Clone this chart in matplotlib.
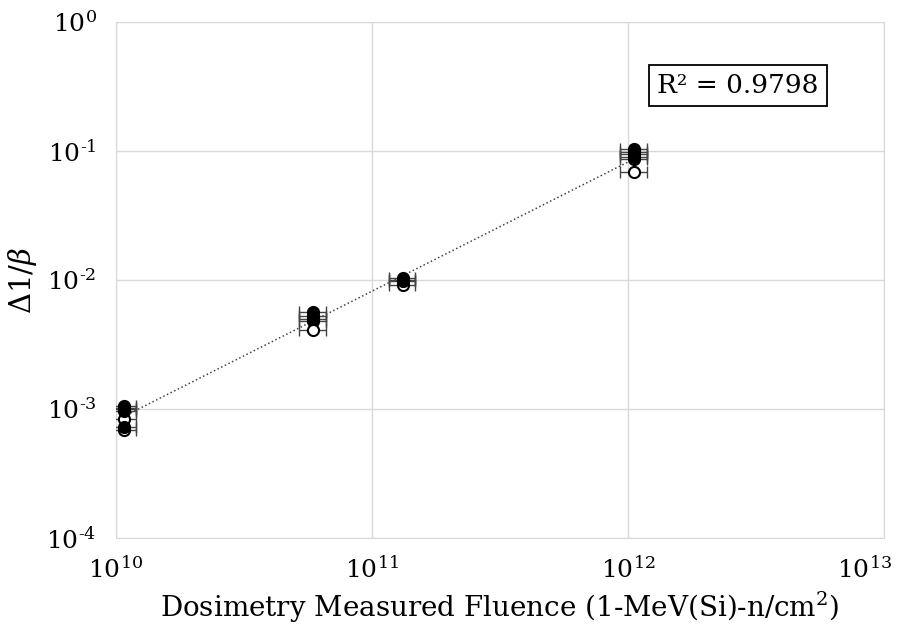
import numpy as np
import matplotlib.pyplot as plt
import matplotlib.transforms as mtransforms
from matplotlib.ticker import FixedLocator, NullLocator, NullFormatter, FuncFormatter

# Dosimetry fluence (1-MeV(Si) n/cm^2) for each irradiation step
fluence_filled = [1.07e10, 1.07e10, 1.07e10, 1.07e10,
                  5.9e10, 5.9e10, 5.9e10,
                  1.32e11, 1.32e11,
                  1.06e12, 1.06e12, 1.06e12, 1.06e12]
delta_filled = [1.05e-3, 1.00e-3, 0.97e-3, 0.72e-3,
                5.6e-3, 5.3e-3, 5.0e-3,
                1.03e-2, 0.98e-2,
                0.104, 0.099, 0.094, 0.090]

fluence_open = [1.07e10, 1.07e10, 1.07e10,
                5.9e10, 5.9e10,
                1.32e11, 1.32e11,
                1.06e12, 1.06e12]
delta_open = [1.02e-3, 0.84e-3, 0.69e-3,
              4.8e-3, 4.1e-3,
              1.00e-2, 0.92e-2,
              0.086, 0.069]

x_ticks = [1e10, 1e11, 1e12, 1e13]
y_ticks = [1e-4, 1e-3, 1e-2, 1e-1, 1e0]

xerr_frac = 0.12
r2_label = "R² = 0.9798"

plt.rcParams["mathtext.fontset"] = "dejavuserif"
plt.rcParams["font.family"] = ["DejaVu Serif"]

fig = plt.figure(figsize=(8.97, 6.25), dpi=100)
ax = fig.add_axes([116 / 897, 1 - 538 / 625, (884 - 116) / 897, (538 - 22) / 625])


def draw(xs, ys, face, z):
    xs = np.array(xs)
    ys = np.array(ys)
    ax.errorbar(xs, ys, xerr=xs * xerr_frac, fmt="none", ecolor="#444444",
                elinewidth=1.0, capsize=4, capthick=1.0, zorder=3)
    ax.plot(xs, ys, "o", ms=8, mfc=face, mec="black", mew=1.5, zorder=z)


draw(fluence_open, delta_open, "white", 4)
draw(fluence_filled, delta_filled, "black", 5)

# Power-law trendline fitted in log-log space
all_x = np.array(fluence_filled + fluence_open)
all_y = np.array(delta_filled + delta_open)
slope, intercept = np.polyfit(np.log10(all_x), np.log10(all_y), 1)
xl = np.array([all_x.min(), all_x.max()])
ax.plot(xl, 10 ** (intercept + slope * np.log10(xl)), ":", color="#444444",
        lw=1.1, zorder=2)

ax.set_xscale("log")
ax.set_yscale("log")
ax.set_xlim(x_ticks[0], x_ticks[-1])
ax.set_ylim(y_ticks[0], y_ticks[-1])


def pow_label(v):
    e = int(round(np.log10(v)))
    if e < 0:
        return r"$10^{\text{-}%d}$" % (-e)
    return r"$10^{%d}$" % e


ax.xaxis.set_major_locator(FixedLocator(x_ticks))
ax.yaxis.set_major_locator(FixedLocator(y_ticks))
ax.xaxis.set_minor_locator(NullLocator())
ax.yaxis.set_minor_locator(NullLocator())
ax.xaxis.set_major_formatter(NullFormatter())
ax.yaxis.set_major_formatter(FuncFormatter(lambda v, p: pow_label(v)))
ax.grid(True, which="major", color="#d9d9d9", lw=1.0)
ax.set_axisbelow(True)
for s in ax.spines.values():
    s.set_color("#d9d9d9")
ax.tick_params(axis="both", length=0)
ax.tick_params(axis="y", pad=14, labelsize=18)

# x tick labels; the last one is pulled in so it stays inside the figure
xt = ax.get_xaxis_transform()
xt_last = mtransforms.offset_copy(xt, fig=fig, x=8, y=0, units="dots")
for i, v in enumerate(x_ticks):
    last = i == len(x_ticks) - 1
    ax.text(v, -0.035, pow_label(v), transform=xt_last if last else xt,
            fontsize=18, ha="right" if last else "center", va="top")

ax.set_xlabel("Dosimetry Measured Fluence (1-MeV(Si)-n/cm$^{2}$)", fontsize=20)
ax.xaxis.set_label_coords(0.5, -0.1)
ax.set_ylabel(r"$\Delta 1/\beta$", fontsize=21)
ax.yaxis.set_label_coords(-0.10, 0.5)

ax.text(0.81, 0.877, r2_label, transform=ax.transAxes,
        fontsize=19, ha="center", va="center",
        bbox=dict(boxstyle="square,pad=0.3", fc="white", ec="black", lw=1.3))

fig.savefig("out.png", dpi=100)
